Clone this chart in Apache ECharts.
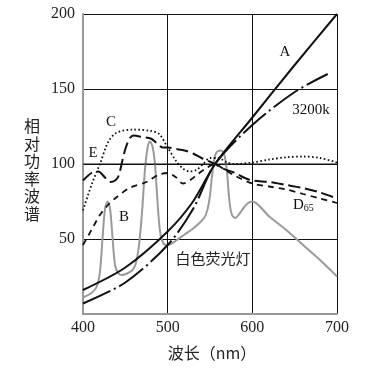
<!DOCTYPE html>
<html><head><meta charset="utf-8">
<script src="https://cdn.jsdelivr.net/npm/echarts@6/dist/echarts.min.js"></script>
<style>html,body{margin:0;padding:0;background:#fff}#c{width:380px;height:371px}</style>
</head><body><div id="c"></div>
<script>
// ---- data ----
const xTicks = [400, 500, 600, 700];
const yTicks = [50, 100, 150, 200];

const wlA = [400,450,500,530,556,600,650,700];
const valA = [16,31,55,75,100,131,166,200];

const wlK = [400,450,500,530,556,600,650,689];
const valK = [7,21,46,70,100,126,148,160];

const wlC = [400,410,420,430,440,460,480,490,500,510,518,526,534,542,550,560,570,580,600,620,640,660,680,700];
const valC = [69,86,100,115,121,123,122,120,111,102,97,95,96,100,104,104,101,100,101,103,104.5,105,104,101];

const wlD65 = [400,410,418,426,432,438,442,446,450,455,460,470,480,487,494,500,510,520,530,540,556,565,580,590,600,620,640,660,680,700];
const valD65 = [89,94,95,91,88,89,92,101,110,117,119,118,117,114,111,111,110,109,107,104,100,97,94,91,89,88,86,84,81,77];

const wlB = [400,410,420,430,440,455,475,490,500,510,518,526,535,545,556,565,580,600,620,640,660,680,700];
const valB = [46,56,66,73,78,84,88,93,94,91,87,89,93,97,100,97,92,87,85,83,80,77,74];

const wlF = [400,410,416,420,423,426,429,432,435,438,442,446,452,458,462,466,470,473,476,479,482,485,488,491,495,500,510,520,530,540,545,549,552,555,558,563,567,570,573,576,580,585,590,595,600,620,640,660,680,700];
const valF = [11,14,18,28,50,70,75,70,50,32,27,26,27,29,33,45,70,95,110,115,112,100,75,55,47,46,49,53,57,62,66,75,90,103,108,109,106,95,75,66,64,67,71,74,75,65,56,46,36,25];

const wlE = [400, 700];
const valE = [100, 100];

const pairs = (xs, ys) => xs.map((x, i) => [x, ys[i]]);

const serif = 'Liberation Serif';
const cjk = 'Noto Sans CJK SC';

const chart = echarts.init(document.getElementById('c'), null, {renderer: 'canvas'});
chart.setOption({
  animation: false,
  backgroundColor: '#fff',
  grid: {left: 83, right: 43, top: 14, bottom: 57},
  xAxis: {
    type: 'value', min: 400, max: 700, interval: 100,
    axisLine: {show: true, lineStyle: {color: '#999', width: 2}},
    axisTick: {show: false},
    axisLabel: {color: '#222', fontFamily: serif, fontSize: 16, margin: 6,
      formatter: v => xTicks.includes(v) ? String(v) : ''},
    splitLine: {show: true, lineStyle: {color: '#111', width: 1}}
  },
  yAxis: {
    type: 'value', min: 0, max: 200, interval: 50,
    axisLine: {show: true, lineStyle: {color: '#999', width: 2}},
    axisTick: {show: false},
    axisLabel: {color: '#222', fontFamily: serif, fontSize: 16, margin: 8,
      formatter: v => yTicks.includes(v) ? String(v) : ''},
    splitLine: {show: true, lineStyle: {color: '#111', width: 1}}
  },
  series: [
    {type: 'line', name: '白色荧光灯', data: pairs(wlF, valF), symbol: 'none', smooth: 0.3,
      lineStyle: {color: '#9a9a9a', width: 2}, z: 1},
    {type: 'line', name: 'E', data: pairs(wlE, valE), symbol: 'none',
      lineStyle: {color: '#111', width: 1}, z: 2},
    {type: 'line', name: 'C', data: pairs(wlC, valC), symbol: 'none', smooth: 0.3,
      lineStyle: {color: '#111', width: 1.8, type: [1.6, 2.4]}, z: 3},
    {type: 'line', name: 'D65', data: pairs(wlD65, valD65), symbol: 'none', smooth: 0.3,
      lineStyle: {color: '#111', width: 2, type: [12, 5]}, z: 3},
    {type: 'line', name: 'B', data: pairs(wlB, valB), symbol: 'none', smooth: 0.3,
      lineStyle: {color: '#111', width: 1.8, type: [6, 5]}, z: 3},
    {type: 'line', name: '3200k', data: pairs(wlK, valK), symbol: 'none', smooth: 0.3,
      lineStyle: {color: '#111', width: 2, type: [30, 4, 2, 4]}, z: 4},
    {type: 'line', name: 'A', data: pairs(wlA, valA), symbol: 'none', smooth: 0.3,
      lineStyle: {color: '#111', width: 2}, z: 4}
  ],
  graphic: [
    {type: 'text', x: 285, y: 52, style: {text: 'A', font: '15px ' + serif, fill: '#111', align: 'center', verticalAlign: 'middle'}},
    {type: 'text', x: 311, y: 110, style: {text: '3200k', font: '15px ' + serif, fill: '#111', align: 'center', verticalAlign: 'middle'}},
    {type: 'text', x: 111, y: 122, style: {text: 'C', font: '15px ' + serif, fill: '#111', align: 'center', verticalAlign: 'middle'}},
    {type: 'text', x: 93, y: 153, style: {text: 'E', font: '15px ' + serif, fill: '#111', align: 'center', verticalAlign: 'middle'}},
    {type: 'text', x: 124, y: 217, style: {text: 'B', font: '15px ' + serif, fill: '#111', align: 'center', verticalAlign: 'middle'}},
    {type: 'text', x: 293, y: 205, style: {text: '{d|D}{s|65}', fill: '#111', verticalAlign: 'middle',
      rich: {d: {fontFamily: serif, fontSize: 15, fill: '#111', verticalAlign: 'bottom'},
             s: {fontFamily: serif, fontSize: 10, fill: '#111', padding: [6, 0, 0, 0], verticalAlign: 'bottom'}}}},
    {type: 'text', x: 213, y: 258, style: {text: '白色荧光灯', font: '15px "' + cjk + '"', fill: '#222', align: 'center', verticalAlign: 'middle'}},
    {type: 'text', x: 32, y: 170, style: {text: '相\n对\n功\n率\n波\n谱', font: '16px "' + cjk + '"', lineHeight: 17.5, fill: '#222', align: 'center', verticalAlign: 'middle'}},
    {type: 'text', x: 212, y: 353, style: {text: '波长（nm）', font: '16px "' + cjk + '"', fill: '#222', align: 'center', verticalAlign: 'middle'}}
  ]
});
</script>
</body></html>
